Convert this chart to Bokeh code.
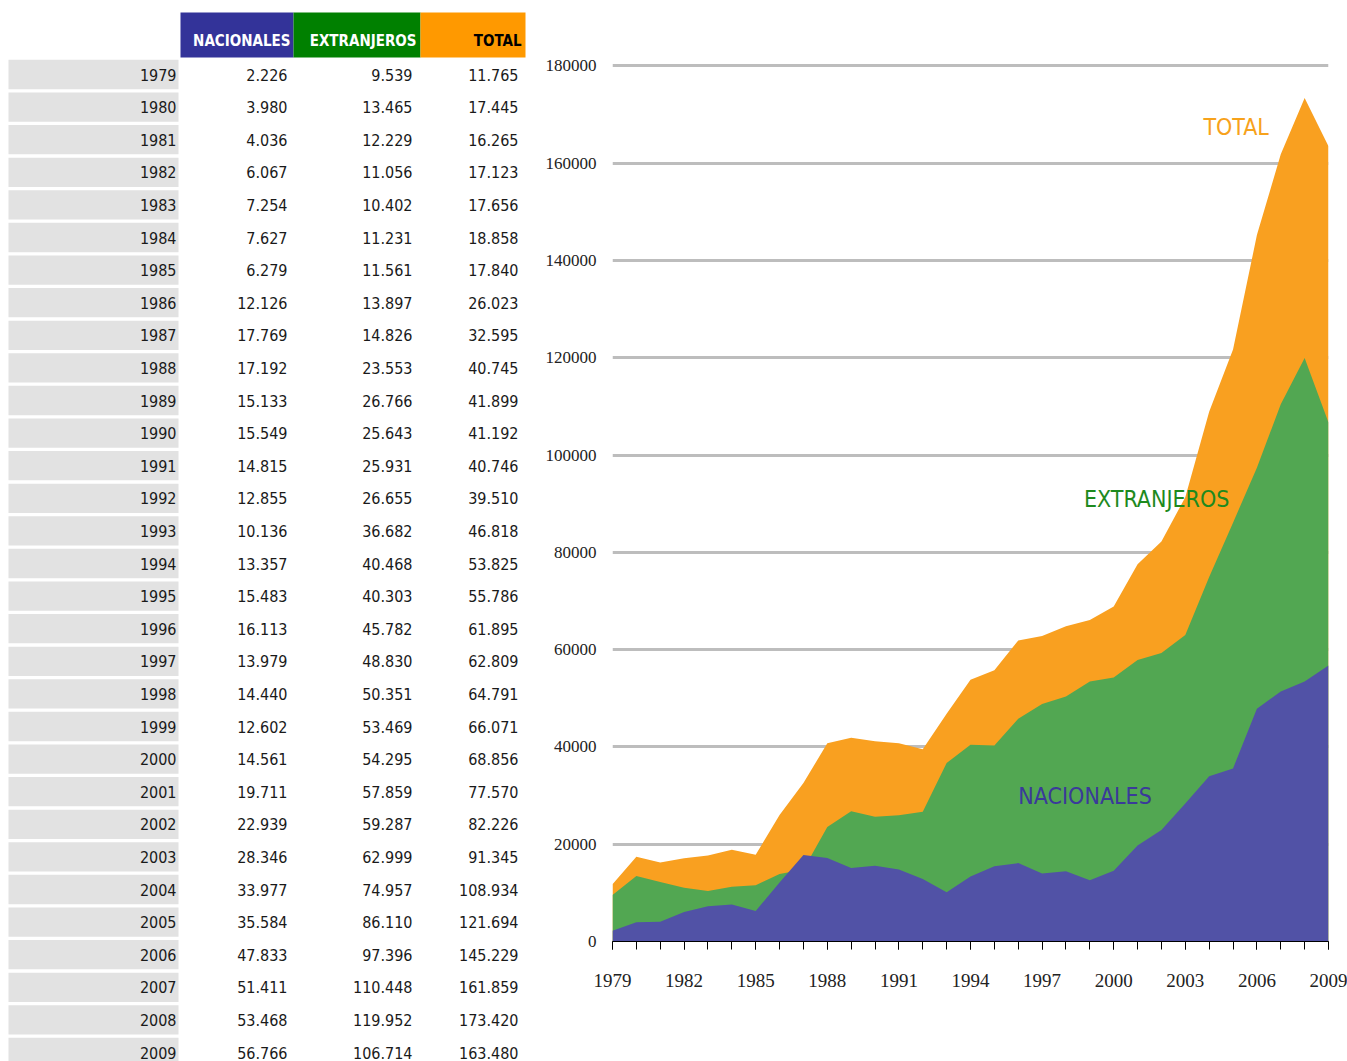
from bokeh.plotting import figure
from bokeh.models import Range1d, FixedTicker, NumeralTickFormatter, Label
from bokeh.layouts import row
from bokeh.core.properties import value
from bokeh.embed import file_html
from bokeh.resources import INLINE

years = list(range(1979, 2010))
nacionales = [2226, 3980, 4036, 6067, 7254, 7627, 6279, 12126, 17769, 17192,
              15133, 15549, 14815, 12855, 10136, 13357, 15483, 16113, 13979, 14440,
              12602, 14561, 19711, 22939, 28346, 33977, 35584, 47833, 51411, 53468,
              56766]
extranjeros = [9539, 13465, 12229, 11056, 10402, 11231, 11561, 13897, 14826, 23553,
               26766, 25643, 25931, 26655, 36682, 40468, 40303, 45782, 48830, 50351,
               53469, 54295, 57859, 59287, 62999, 74957, 86110, 97396, 110448, 119952,
               106714]
total = [11765, 17445, 16265, 17123, 17656, 18858, 17840, 26023, 32595, 40745,
         41899, 41192, 40746, 39510, 46818, 53825, 55786, 61895, 62809, 64791,
         66071, 68856, 77570, 82226, 91345, 108934, 121694, 145229, 161859, 173420,
         163480]
headers = ["NACIONALES", "EXTRANJEROS", "TOTAL"]
header_colors = ["#333399", "#008000", "#FF9900"]
header_text_colors = ["#FFFFFF", "#FFFFFF", "#000000"]
series_labels = ["TOTAL", "EXTRANJEROS", "NACIONALES"]
x_ticks = list(range(1979, 2010, 3))
y_ticks = list(range(0, 180001, 20000))

SANS = "'DejaVu Sans Condensed', Roboto, sans-serif"
SERIF = "Liberation Serif"

ORANGE = "#F9A020"
GREEN = "#52A752"
PURPLE = "#5152A6"


def fmt(v):
    return f"{v:,}".replace(",", ".")


H = 1061
TW = 534
CW = 813
ROW = 32.6
ROW0 = 74


def no_align(fig):
    if "frame_align" in fig.properties():
        fig.frame_align = False


# ---------------- table ----------------
t = figure(width=TW, height=H, x_range=Range1d(0, TW),
           y_range=Range1d((H - ROW0) / ROW, -ROW0 / ROW),
           output_backend="svg", toolbar_location=None, min_border=0,
           x_axis_location=None, y_axis_location=None)
t.grid.visible = False
t.outline_line_color = None
no_align(t)

idx = list(range(len(years)))
t.rect(x=93, y=idx, width=170, height=0.9, fill_color="#E2E2E2", line_color=None)

hx = [236.5, 356.5, 472.5]
hw = [113, 127, 105]
t.rect(x=hx, y=-1.21, width=hw, height=1.38, fill_color=header_colors, line_color=None)
t.text(x=[290, 416, 521], y=-1.04, text=headers, text_align="right",
       text_baseline="middle", text_font=value(SANS), text_font_style="bold",
       text_font_size="15px", text_color=header_text_colors)

common = dict(text_align="right", text_baseline="middle", text_font=value(SANS),
              text_font_size="16px", text_color="#1A1A1A")
t.text(x=176, y=idx, text=[str(y) for y in years], **common)
t.text(x=287, y=idx, text=[fmt(v) for v in nacionales], **common)
t.text(x=412, y=idx, text=[fmt(v) for v in extranjeros], **common)
t.text(x=518, y=idx, text=[fmt(v) for v in total], **common)

# ---------------- chart ----------------
c = figure(width=CW, height=H, x_range=Range1d(1979, 2009), y_range=Range1d(0, 184000),
           output_backend="svg", toolbar_location=None,
           min_border_left=78, min_border_right=19, min_border_top=46,
           min_border_bottom=120)
c.outline_line_color = None
c.xgrid.visible = False
c.ygrid.ticker = FixedTicker(ticks=y_ticks)
c.ygrid.grid_line_color = "#BDBDBD"
c.ygrid.grid_line_width = 3
no_align(c)

c.varea(x=years, y1=0, y2=total, fill_color=ORANGE)
c.varea(x=years, y1=0, y2=extranjeros, fill_color=GREEN)
c.varea(x=years, y1=0, y2=nacionales, fill_color=PURPLE)

xa = c.xaxis[0]
xa.ticker = FixedTicker(ticks=x_ticks, minor_ticks=years)
xa.major_tick_out = 8
xa.major_tick_in = 0
xa.minor_tick_out = 8
xa.minor_tick_in = 0
xa.axis_line_color = "#000000"
xa.major_tick_line_color = "#000000"
xa.minor_tick_line_color = "#000000"
xa.major_label_text_font = SERIF
xa.major_label_text_font_size = "19px"
xa.major_label_text_color = "#222222"
xa.major_label_standoff = 24

ya = c.yaxis[0]
ya.ticker = FixedTicker(ticks=y_ticks)
ya.formatter = NumeralTickFormatter(format="0")
ya.axis_line_color = None
ya.major_tick_line_color = None
ya.minor_tick_line_color = None
ya.major_label_text_font = SERIF
ya.major_label_text_font_size = "17px"
ya.major_label_text_color = "#222222"
ya.major_label_standoff = 10

label_specs = [
    (series_labels[0], 2006.5, 167500, "right", "#F7A21B"),
    (series_labels[1], 2001.8, 91000, "center", "#1E8A1E"),
    (series_labels[2], 1998.8, 30000, "center", "#3A3A9A"),
]
for txt, lx, ly, al, col in label_specs:
    c.add_layout(Label(x=lx, y=ly, text=txt, text_align=al, text_baseline="middle",
                       text_font=SANS, text_font_size="23px", text_color=col))

layout = row(t, c, spacing=0)
open("out.html", "w").write(file_html(layout, INLINE))
